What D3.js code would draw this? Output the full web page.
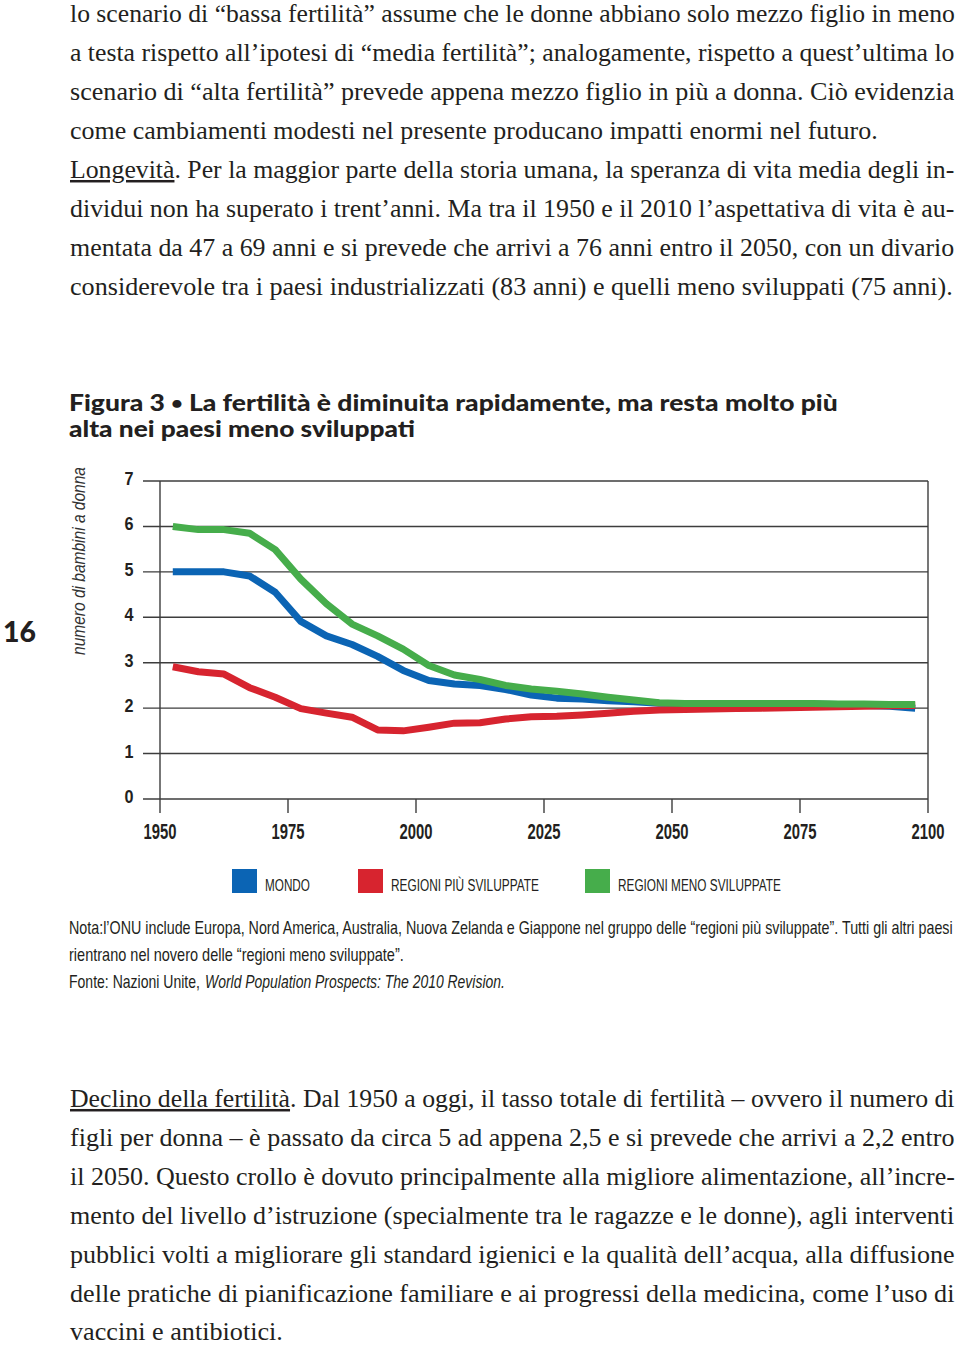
<!DOCTYPE html>
<html>
<head>
<meta charset="utf-8">
<script src="https://cdn.jsdelivr.net/npm/d3@7"></script>
<style>
  body { margin: 0; background: #fff; }
  svg { display: block; }
</style>
</head>
<body>
<svg id="chart" width="960" height="1346"></svg>
<script>
// ---------------- DATA ----------------
const years = [1952.5,1957.5,1962.5,1967.5,1972.5,1977.5,1982.5,1987.5,1992.5,1997.5,
               2002.5,2007.5,2012.5,2017.5,2022.5,2027.5,2032.5,2037.5,2042.5,2047.5,
               2052.5,2057.5,2062.5,2067.5,2072.5,2077.5,2082.5,2087.5,2092.5,2097.5];
const mondo = [5.00,5.00,5.00,4.91,4.55,3.91,3.59,3.40,3.14,2.83,
               2.61,2.53,2.50,2.41,2.29,2.22,2.20,2.16,2.14,2.11,
               2.10,2.10,2.10,2.10,2.09,2.09,2.08,2.06,2.04,2.00];
const regioniPiuSviluppate = [2.91,2.80,2.75,2.45,2.24,1.99,1.89,1.80,1.52,1.50,
               1.58,1.67,1.68,1.76,1.81,1.82,1.85,1.89,1.93,1.96,
               1.97,1.98,1.99,2.00,2.01,2.02,2.03,2.04,2.05,2.06];
const regioniMenoSviluppate = [6.00,5.93,5.93,5.85,5.49,4.84,4.30,3.85,3.59,3.30,
               2.94,2.73,2.63,2.50,2.42,2.37,2.31,2.24,2.18,2.12,
               2.10,2.10,2.10,2.10,2.10,2.10,2.09,2.09,2.08,2.08];
const seriesNames = ["MONDO", "REGIONI PIÙ SVILUPPATE", "REGIONI MENO SVILUPPATE"];
const seriesColors = ["#0b64b4", "#d7242f", "#46ad4b"];
const yTicks = [0, 1, 2, 3, 4, 5, 6, 7];
const xTicks = [1950, 1975, 2000, 2025, 2050, 2075, 2100];
const yAxisTitle = "numero di bambini a donna";
const titleLine1 = ["Figura 3 ", "•", " La fertilità è diminuita rapidamente, ma resta molto più"];
const titleLine2 = "alta nei paesi meno sviluppati";
const pageNumber = "16";

const bodyTop = [
  "lo scenario di “bassa fertilità” assume che le donne abbiano solo mezzo figlio in meno",
  "a testa rispetto all’ipotesi di “media fertilità”; analogamente, rispetto a quest’ultima lo",
  "scenario di “alta fertilità” prevede appena mezzo figlio in più a donna. Ciò evidenzia",
  "come cambiamenti modesti nel presente producano impatti enormi nel futuro.",
  ["Longevità", ". Per la maggior parte della storia umana, la speranza di vita media degli in-"],
  "dividui non ha superato i trent’anni. Ma tra il 1950 e il 2010 l’aspettativa di vita è au-",
  "mentata da 47 a 69 anni e si prevede che arrivi a 76 anni entro il 2050, con un divario",
  "considerevole tra i paesi industrializzati (83 anni) e quelli meno sviluppati (75 anni)."
];
const bodyTopWidths = [885, 885, 885, 808, 885, 885, 885, 883];

const bodyBottom = [
  ["Declino della fertilità", ". Dal 1950 a oggi, il tasso totale di fertilità – ovvero il numero di"],
  "figli per donna – è passato da circa 5 ad appena 2,5 e si prevede che arrivi a 2,2 entro",
  "il 2050. Questo crollo è dovuto principalmente alla migliore alimentazione, all’incre-",
  "mento del livello d’istruzione (specialmente tra le ragazze e le donne), agli interventi",
  "pubblici volti a migliorare gli standard igienici e la qualità dell’acqua, alla diffusione",
  "delle pratiche di pianificazione familiare e ai progressi della medicina, come l’uso di",
  "vaccini e antibiotici."
];
const bodyBottomWidths = [885, 885, 885, 885, 885, 885, 213];

const noteLines = [
  "Nota:l’ONU include Europa, Nord America, Australia, Nuova Zelanda e Giappone nel gruppo delle “regioni più sviluppate”. Tutti gli altri paesi",
  "rientrano nel novero delle “regioni meno sviluppate”."
];
const sourcePrefix = "Fonte: Nazioni Unite,";
const sourceItalic = "World Population Prospects: The 2010 Revision.";

// ---------------- SETUP ----------------
const svg = d3.select("#chart");
const ink = "#231f20";
const serif = "'Liberation Serif', 'Times New Roman', serif";
const narrow = "'Liberation Sans Narrow', 'Liberation Sans', Arial, sans-serif";
const heavy = "Lato, 'DejaVu Sans', sans-serif";

// Fit a text to a target width by horizontal scaling (transform-based)
function fit(sel, w, extra) {
  sel.each(function() {
    const t = d3.select(this);
    const nat = this.getComputedTextLength();
    const s = nat > 0 ? w / nat : 1;
    const x = +t.attr("x") || 0, y = +t.attr("y") || 0;
    t.attr("x", 0).attr("y", 0)
     .attr("transform", `translate(${x},${y})${extra ? " " + extra : ""} scale(${s},1)`);
  });
  return sel;
}

// ---------------- BODY TEXT ----------------
function drawBody(lines, widths, y0, step) {
  lines.forEach((ln, i) => {
    const t = svg.append("text")
      .attr("x", 70).attr("y", y0 + i * step)
      .attr("font-family", serif).attr("font-size", 25)
      .attr("fill", ink);
    if (Array.isArray(ln)) {
      t.append("tspan").style("text-decoration", "underline").text(ln[0]);
      t.append("tspan").text(ln[1]);
    } else {
      t.text(ln);
    }
    fit(t, widths[i]);
  });
}
drawBody(bodyTop, bodyTopWidths, 22, 39);
drawBody(bodyBottom, bodyBottomWidths, 1107, 38.9);

// ---------------- TITLE ----------------
const t1 = svg.append("text")
  .attr("x", 69).attr("y", 411)
  .attr("font-family", heavy).attr("font-weight", 900)
  .attr("font-size", 23).attr("fill", ink);
t1.append("tspan").text(titleLine1[0]);
t1.append("tspan").attr("font-size", 17).attr("dy", -2).text(titleLine1[1]);
t1.append("tspan").attr("dy", 2).text(titleLine1[2]);
fit(t1, 769);
fit(svg.append("text")
  .attr("x", 69).attr("y", 437)
  .attr("font-family", heavy).attr("font-weight", 900)
  .attr("font-size", 23).attr("fill", ink)
  .text(titleLine2), 346);

// page number
fit(svg.append("text")
  .attr("x", 3).attr("y", 642)
  .attr("font-family", heavy).attr("font-weight", 900)
  .attr("font-size", 28).attr("fill", ink)
  .text(pageNumber), 33);

// ---------------- CHART ----------------
const x = d3.scaleLinear().domain([1950, 2100]).range([160, 928]);
const y = d3.scaleLinear().domain([0, 7]).range([799, 481]);
const gridColor = "#3d3d3d";

const g = svg.append("g");

// horizontal gridlines
g.selectAll("line.grid").data(yTicks).join("line")
  .attr("class", "grid")
  .attr("x1", 143).attr("x2", x(2100))
  .attr("y1", d => y(d)).attr("y2", d => y(d))
  .attr("stroke", gridColor).attr("stroke-width", 1.4);

// vertical frame lines and x ticks
g.selectAll("line.xtick").data(xTicks).join("line")
  .attr("class", "xtick")
  .attr("x1", d => x(d)).attr("x2", d => x(d))
  .attr("y1", d => (d === 1950 || d === 2100) ? y(7) : y(0))
  .attr("y2", y(0) + 14)
  .attr("stroke", gridColor).attr("stroke-width", 1.4);

// y labels
fit(g.selectAll("text.ylab").data(yTicks).join("text")
  .attr("class", "ylab")
  .attr("x", 129).attr("y", d => y(d) + 4)
  .attr("text-anchor", "middle")
  .attr("font-family", narrow).attr("font-weight", "bold")
  .attr("font-size", 18).attr("fill", ink)
  .text(d => d), 9);

// x labels
fit(g.selectAll("text.xlab").data(xTicks).join("text")
  .attr("class", "xlab")
  .attr("x", d => x(d)).attr("y", 839)
  .attr("text-anchor", "middle")
  .attr("font-family", narrow).attr("font-weight", "bold")
  .attr("font-size", 22).attr("fill", ink)
  .text(d => d), 33);

// y axis title
fit(g.append("text")
  .attr("x", 85).attr("y", 561)
  .attr("text-anchor", "middle")
  .attr("font-family", narrow).attr("font-style", "italic")
  .attr("font-size", 19).attr("fill", "#333")
  .text(yAxisTitle), 188, "rotate(-90)");

// series lines
const series = [mondo, regioniPiuSviluppate, regioniMenoSviluppate];
const line = d3.line()
  .x((d, i) => x(years[i]))
  .y(d => y(d))
  .curve(d3.curveLinear);

series.forEach((s, k) => {
  g.append("path")
    .datum(s)
    .attr("d", line)
    .attr("fill", "none")
    .attr("stroke", seriesColors[k])
    .attr("stroke-width", 7)
    .attr("stroke-linejoin", "round")
    .attr("stroke-linecap", "butt");
});

// ---------------- LEGEND ----------------
const legendX = [232, 358, 585];
const legendTextW = [45, 148, 163];
seriesNames.forEach((name, k) => {
  svg.append("rect")
    .attr("x", legendX[k]).attr("y", 869)
    .attr("width", 25).attr("height", 24)
    .attr("fill", seriesColors[k]);
  fit(svg.append("text")
    .attr("x", legendX[k] + 33).attr("y", 891)
    .attr("font-family", narrow).attr("font-size", 17)
    .attr("fill", ink)
    .text(name), legendTextW[k]);
});

// ---------------- NOTES ----------------
const noteW = [884, 335];
noteLines.forEach((ln, i) => {
  fit(svg.append("text")
    .attr("x", 69).attr("y", 934 + i * 27)
    .attr("font-family", narrow).attr("font-size", 18)
    .attr("fill", ink)
    .text(ln), noteW[i]);
});
fit(svg.append("text")
  .attr("x", 69).attr("y", 988)
  .attr("font-family", narrow).attr("font-size", 18)
  .attr("fill", ink)
  .text(sourcePrefix), 131);
fit(svg.append("text")
  .attr("x", 205).attr("y", 988)
  .attr("font-family", narrow).attr("font-size", 18)
  .attr("font-style", "italic")
  .attr("fill", ink)
  .text(sourceItalic), 300);
</script>
</body>
</html>
